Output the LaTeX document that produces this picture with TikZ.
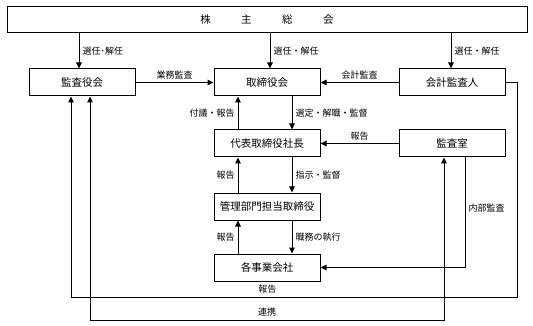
\documentclass[tikz,border=0pt]{standalone}
\usepackage{fontspec}
\setmainfont{Noto Sans CJK JP}
\usetikzlibrary{calc, positioning, arrows.meta}

\begin{document}
\begin{tikzpicture}[
        x=1pt, y=1pt,
        node distance=33pt and 78pt,
        block/.style={
            rectangle, draw=black, line width=1pt, fill=white,
            minimum width=106pt, minimum height=27pt,
            inner sep=2pt,
            font=\fontsize{10.5}{12}\selectfont
        },
        meeting/.style={block, minimum width=520pt, minimum height=26pt},
        line/.style={draw, line width=1pt, -{Triangle[length=6pt,width=5.5pt]}},
        biline/.style={line, {Triangle[length=6pt,width=5.5pt]}-{Triangle[length=6pt,width=5.5pt]}},
        lbl/.style={font=\fontsize{9}{10}\selectfont, inner sep=3pt}
    ]

    \useasboundingbox (0,0) rectangle (533,-326);

    \node [meeting] (soukai) at (267,-20) {株\hspace{30.5pt}主\hspace{30.5pt}総\hspace{30.5pt}会};

    \node [block, below=35pt of soukai] (torishimari) {取締役会};
    \node [block, left=of torishimari] (kansayaku) {監査役会};
    \node [block, right=of torishimari] (kaikei) {会計監査人};

    \node [block, below=of torishimari] (shacho) {代表取締役社長};
    \node [block, right=of shacho] (kansashitsu) {監査室};

    \node [block, below=35pt of shacho] (kanri) {管理部門担当取締役};
    \node [block, below=of kanri] (jigyo) {各事業会社};

    \coordinate (kyL) at ([xshift=-11pt]kansayaku.south);
    \coordinate (kyR) at ([xshift=8pt]kansayaku.south);
    \coordinate (ksL) at ([xshift=-8pt]kansashitsu.south);
    \coordinate (ksR) at ([xshift=13pt]kansashitsu.south);
    \coordinate (rptbase) at (0,-297);
    \coordinate (renbase) at (0,-320);

    \draw [line] ([xshift=-3pt]kansayaku.north |- soukai.south) -- node[right, lbl] {選任･解任} ([xshift=-3pt]kansayaku.north);
    \draw [line] ([xshift=3pt]torishimari.north |- soukai.south) -- node[right, lbl] {選任・解任} ([xshift=3pt]torishimari.north);
    \draw [line] ([xshift=-1pt]kaikei.north |- soukai.south) -- node[right, lbl] {選任・解任} ([xshift=-1pt]kaikei.north);

    \draw [line] (kansayaku) -- node[above, lbl] {業務監査} (torishimari);
    \draw [line] (kaikei) -- node[above, lbl] {会計監査} (torishimari);

    \draw [line] ([xshift=-29pt]shacho.north) -- node[left, lbl] {付議・報告} ([xshift=-29pt]torishimari.south);
    \draw [line] ([xshift=25pt]torishimari.south) -- node[right, lbl] {選定・解職・監督} ([xshift=25pt]shacho.north);
    \draw [line] (kansashitsu) -- node[above, lbl] {報告} (shacho);

    \draw [line] ([xshift=-29pt]kanri.north) -- node[left, lbl] {報告} ([xshift=-29pt]shacho.south);
    \draw [line] ([xshift=25pt]shacho.south) -- node[right, lbl] {指示・監督} ([xshift=25pt]kanri.north);

    \draw [line] ([xshift=-29pt]jigyo.north) -- node[left, lbl] {報告} ([xshift=-29pt]kanri.south);
    \draw [line] ([xshift=25pt]kanri.south) -- node[right, lbl] {職務の執行} ([xshift=25pt]jigyo.north);

    \draw [line] (ksR) |- node[pos=0.23, right, lbl] {内部監査} (jigyo.east);

    \draw [line] (kaikei.east) -- ++(12pt,0) |- node[pos=0.78, above, lbl] {報告} (kyL |- rptbase) -- (kyL);
    \draw [biline] (ksL) -- (ksL |- renbase) -- node[above, lbl] {連携} (kyR |- renbase) -- (kyR);

\end{tikzpicture}
\end{document}
